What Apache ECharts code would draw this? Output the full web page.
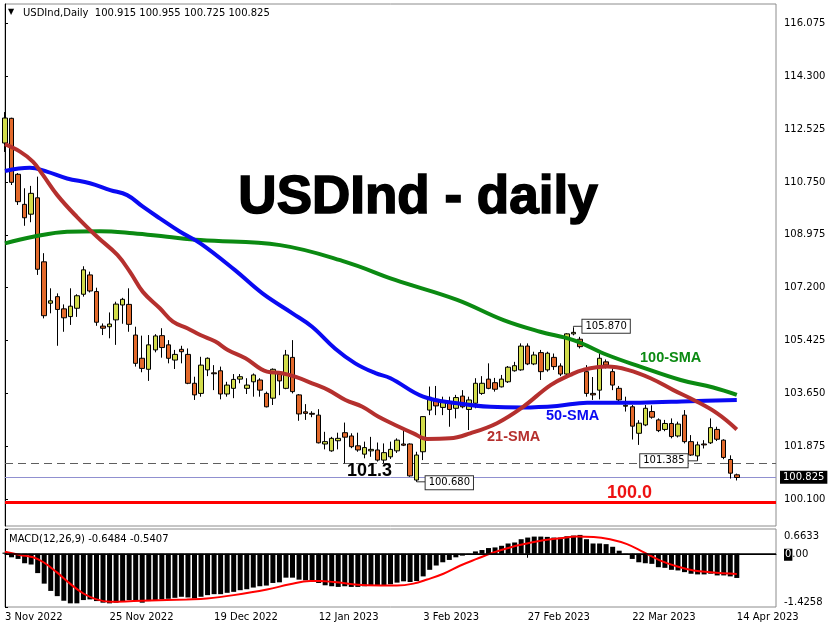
<!DOCTYPE html>
<html><head><meta charset="utf-8">
<script src="https://cdn.jsdelivr.net/npm/echarts@6/dist/echarts.min.js"></script>
<style>html,body{margin:0;padding:0;background:#fff}#c{width:837px;height:644px}</style>
</head><body><div id="c"></div><script>
// ---------- data ----------
const tickLabels = ['3 Nov 2022','25 Nov 2022','19 Dec 2022','12 Jan 2023','3 Feb 2023','27 Feb 2023','22 Mar 2023','14 Apr 2023'];
const priceTicks = [100.100,101.875,103.650,105.425,107.200,108.975,110.750,112.525,114.300,116.075];
const macdTicks = [-1.4258, 0, 0.6633];
const lastPrice = 100.825;
const supportLevel = 101.3;
const roundLevel = 100.0;

const open = [112.06,112.89,111.01,110.00,109.67,110.22,108.07,106.68,106.90,106.49,
106.23,106.51,106.98,107.63,107.07,105.91,105.89,106.12,106.62,106.64,
105.61,104.83,104.46,105.11,105.59,105.28,104.77,105.13,104.96,103.99,
103.65,104.44,104.34,104.41,103.63,103.82,104.13,103.82,104.04,104.10,
103.65,103.49,104.30,103.82,104.86,103.60,103.03,102.98,102.92,101.95,
101.72,102.06,102.33,102.22,101.89,101.61,101.72,101.75,101.41,101.52,
101.72,101.95,101.95,100.74,101.69,103.09,103.45,103.18,103.37,103.15,
103.56,103.11,103.32,103.65,104.13,104.01,103.87,104.04,104.41,104.44,
105.24,104.64,105.02,104.44,104.86,104.57,104.30,105.65,105.47,104.38,
103.65,103.76,104.71,104.38,103.82,103.22,103.20,102.31,102.59,103.04,
102.76,102.44,102.64,102.22,102.92,102.03,101.55,101.95,101.99,102.44,
102.08,101.43,100.915];
const high = [113.10,112.91,111.05,110.54,110.62,110.93,108.36,107.18,107.01,106.64,
107.18,106.98,107.92,107.74,107.20,106.00,106.37,106.73,106.86,107.18,
105.89,105.59,105.61,105.64,105.84,105.44,105.11,105.25,105.16,104.21,
104.88,104.86,104.60,104.55,104.04,104.30,104.30,104.16,104.32,104.16,
103.71,104.49,104.38,105.11,105.44,103.63,103.29,103.05,103.12,102.36,
102.19,102.33,102.67,102.31,102.33,102.03,102.19,102.00,101.97,102.03,
102.14,102.42,101.97,101.69,102.89,103.88,103.90,103.54,103.54,103.60,
103.76,103.54,104.16,104.23,104.66,104.17,104.27,104.57,104.71,105.33,
105.33,105.05,105.11,105.05,104.99,104.66,105.67,105.87,105.55,104.60,
104.20,104.99,104.79,104.49,103.90,103.54,103.26,102.75,103.26,103.25,
102.81,102.76,102.81,102.70,103.09,102.25,102.03,102.08,102.81,102.53,
102.11,101.57,100.955];
const low = [111.76,110.65,109.98,109.28,109.40,107.63,106.17,106.34,105.25,105.72,
105.95,106.22,106.90,107.04,105.92,105.61,105.50,105.28,105.99,105.72,
104.55,104.36,104.07,105.03,104.85,104.66,104.47,104.66,103.96,103.43,
103.54,104.23,103.76,103.45,103.54,103.49,103.99,103.63,103.54,103.54,
103.18,103.26,103.59,103.79,103.65,102.73,102.76,102.85,101.97,101.77,
101.69,101.77,101.30,101.81,101.69,101.47,101.52,101.36,101.30,101.45,
101.65,101.88,100.85,100.68,101.41,102.92,102.92,102.92,102.53,102.81,
103.15,102.42,103.15,103.60,103.79,103.71,103.85,104.00,104.38,104.41,
104.60,104.60,104.10,104.38,104.44,104.23,104.21,105.60,105.16,103.54,
103.43,103.45,104.49,103.76,103.37,103.04,102.10,101.92,102.55,102.80,
102.35,102.38,102.14,102.17,101.97,101.55,101.385,101.80,101.95,102.05,
101.44,100.79,100.725];
const close = [112.90,110.74,110.09,109.55,110.37,107.82,106.26,106.76,106.47,106.19,
106.58,106.93,107.80,107.09,106.04,105.84,105.98,106.65,106.81,105.97,
104.66,104.49,105.28,105.58,105.19,104.83,104.96,105.05,103.99,103.60,
104.60,104.83,104.31,103.63,103.93,104.12,104.21,103.93,104.27,103.76,
103.20,104.46,104.07,104.94,103.71,102.96,102.98,102.95,101.99,102.03,
102.14,102.14,102.18,101.86,101.75,101.83,101.77,101.41,101.66,101.77,
102.08,101.91,100.88,101.58,102.87,103.52,103.23,103.37,103.11,103.51,
103.20,103.43,103.99,103.99,103.82,103.79,104.13,104.53,104.58,105.24,
104.64,104.94,104.38,105.00,104.55,104.30,105.65,105.70,105.22,103.65,
103.60,104.83,104.60,103.93,103.43,103.25,102.55,102.65,103.15,102.85,
102.40,102.64,102.20,102.62,102.03,101.58,101.92,101.92,102.50,102.11,
101.50,100.97,100.825];

// moving averages: [bar position, value]
const sma21 = [[0,112.02],[2.3,111.77],[4.3,111.43],[5.8,110.99],[8,110.31],[11,109.58],[14.1,108.91],[17.2,108.30],[19.1,107.74],[21.1,107.06],[23.7,106.51],[25.7,106.06],[27.9,105.84],[29.9,105.61],[32.2,105.39],[34.1,105.11],[36.8,104.83],[40.1,104.38],[42.4,104.33],[44.4,104.21],[47,103.99],[49.5,103.76],[52.1,103.43],[54.7,103.20],[57.1,102.87],[59.7,102.59],[62.5,102.31],[64.6,102.12],[68.1,102.14],[71.2,102.31],[75.3,102.65],[79.3,103.20],[83.5,103.93],[86.5,104.27],[88.5,104.44],[92.2,104.55],[95.3,104.44],[98.8,104.16],[102.3,103.76],[105.4,103.43],[109,102.98],[112,102.44]];
const sma50 = [[0,111.12],[3.8,111.23],[6.4,111.10],[9.5,110.87],[13,110.71],[16.1,110.48],[18.7,110.31],[21.1,109.92],[23.7,109.53],[26.8,109.08],[29.9,108.69],[35.2,107.79],[39.4,107.01],[44,106.34],[47,105.89],[50.5,105.16],[53.6,104.66],[56.7,104.33],[59,104.16],[64,103.54],[69.2,103.32],[74.3,103.20],[79.3,103.18],[84.5,103.23],[89.1,103.34],[97.2,103.34],[104.9,103.39],[112,103.43]];
const sma100 = [[0,108.69],[4.3,108.91],[9.5,109.08],[14.5,109.10],[19.6,109.03],[24.8,108.91],[29.9,108.80],[42.1,108.63],[52.1,108.07],[59.7,107.46],[69.2,106.79],[76.3,106.11],[81.9,105.72],[87,105.44],[92.2,104.94],[97.2,104.55],[103.4,104.10],[108.4,103.85],[112,103.60]];

const macdHist = [0.03,-0.095,-0.138,-0.254,-0.288,-0.518,-0.80,-0.995,-1.135,-1.258,
-1.328,-1.328,-1.24,-1.222,-1.267,-1.31,-1.328,-1.31,-1.285,-1.24,
-1.258,-1.31,-1.267,-1.24,-1.222,-1.205,-1.18,-1.152,-1.17,-1.196,
-1.152,-1.108,-1.082,-1.082,-1.046,-1.02,-0.976,-0.95,-0.905,-0.87,
-0.852,-0.782,-0.765,-0.64,-0.64,-0.693,-0.711,-0.711,-0.782,-0.844,
-0.87,-0.888,-0.87,-0.888,-0.888,-0.87,-0.852,-0.844,-0.836,-0.817,
-0.773,-0.738,-0.756,-0.73,-0.606,-0.43,-0.315,-0.228,-0.165,-0.095,
-0.05,-0.02,0.063,0.10,0.153,0.17,0.214,0.275,0.302,0.39,
0.434,0.46,0.46,0.452,0.434,0.434,0.469,0.487,0.505,0.39,
0.275,0.275,0.258,0.187,0.082,-0.01,-0.138,-0.228,-0.254,-0.27,
-0.36,-0.377,-0.43,-0.447,-0.492,-0.535,-0.553,-0.553,-0.535,-0.58,
-0.58,-0.606,-0.648];
const macdSignal = [[0,0.055],[2.3,-0.032],[4.3,-0.095],[5.9,-0.228],[7.9,-0.492],[9.95,-0.80],[12,-1.064],[14,-1.222],[16.1,-1.285],[19.7,-1.267],[24.8,-1.24],[27.8,-1.222],[30.9,-1.196],[35,-1.108],[40.1,-0.958],[43.6,-0.817],[46.7,-0.73],[48.2,-0.73],[50.3,-0.756],[55.4,-0.844],[60,-0.85],[62.5,-0.80],[64.6,-0.69],[67.1,-0.535],[69.7,-0.315],[72.2,-0.138],[74.8,0.037],[77.3,0.17],[79.9,0.275],[82.4,0.364],[85,0.417],[87.5,0.46],[90.1,0.452],[92.6,0.39],[95.2,0.258],[97.8,0.037],[100.3,-0.183],[102.9,-0.341],[105.4,-0.447],[108,-0.492],[112,-0.541]];

// ---------- chart ----------
const nSlots = 119;
const cats = Array.from({length: nSlots}, (_, i) => String(i));
const candles = open.map((o, i) => [o, close[i], low[i], high[i]]);
const FONT = 'DejaVu Sans';

const chart = echarts.init(document.getElementById('c'));
const option = {
  animation: false,
  backgroundColor: '#fff',
  grid: [
    {left: 5, top: 4, width: 771, height: 522, show: true, borderColor: '#8c8c8c', borderWidth: 1, backgroundColor: '#fff'},
    {left: 5, top: 529, width: 771, height: 78, show: true, borderColor: '#8c8c8c', borderWidth: 1, backgroundColor: '#fff'}
  ],
  xAxis: [
    {type: 'category', gridIndex: 0, data: cats, boundaryGap: false, axisLine: {show: false}, axisTick: {show: false}, axisLabel: {show: false}, splitLine: {show: false}},
    {type: 'category', gridIndex: 1, data: cats, boundaryGap: false,
      axisLine: {show: true, lineStyle: {color: '#000', width: 1}},
      axisTick: {show: true, length: 4, interval: (i) => i % 16 === 0, lineStyle: {color: '#000'}},
      axisLabel: {show: true, interval: 0, align: 'left', margin: 5, fontSize: 10, fontFamily: FONT, color: '#000',
        formatter: (v, i) => (i % 16 === 0 && tickLabels[i / 16]) ? tickLabels[i / 16] : ''},
      splitLine: {show: false}},
    {type: 'value', gridIndex: 0, min: 0, max: nSlots - 1, show: false},
    {type: 'value', gridIndex: 1, min: 0, max: nSlots - 1, show: false}
  ],
  yAxis: [
    {type: 'value', gridIndex: 0, position: 'right', min: 99.196, max: 116.730, scale: true,
      axisLine: {show: true, lineStyle: {color: '#000', width: 1}},
      axisTick: {show: true, length: 3, customValues: priceTicks, lineStyle: {color: '#000'}},
      axisLabel: {show: true, customValues: priceTicks, margin: 8, fontSize: 10, fontFamily: FONT, color: '#000',
        formatter: (v) => v.toFixed(3)},
      splitLine: {show: false}},
    {type: 'value', gridIndex: 1, position: 'right', min: -1.4258, max: 0.6633,
      axisLine: {show: true, lineStyle: {color: '#000', width: 1}},
      axisTick: {show: true, length: 3, customValues: macdTicks, lineStyle: {color: '#000'}},
      axisLabel: {show: true, customValues: macdTicks, margin: 8, fontSize: 10, fontFamily: FONT, color: '#000',
        verticalAlignMinLabel: 'bottom', verticalAlignMaxLabel: 'top', padding: [2, 0, 0, 0],
        formatter: (v) => v === 0 ? '{z|0}.00' : v.toFixed(4),
        rich: {z: {backgroundColor: '#000', color: '#fff', fontSize: 10, fontFamily: FONT, padding: [1, 1, 1, 1]}}},
      splitLine: {show: false}}
  ],
  series: [
    {type: 'candlestick', name: 'USDInd', xAxisIndex: 0, yAxisIndex: 0, data: candles, barWidth: 5, z: 2,
      itemStyle: {color: '#d2dc4a', color0: '#e2692b', borderColor: '#000', borderColor0: '#000', borderWidth: 1},
      markLine: {silent: true, symbol: ['none', 'none'], animation: false, z: 1,
        data: [
          {yAxis: supportLevel, lineStyle: {color: '#5e5e5e', width: 1, type: [8, 5]}, label: {show: false}},
          {yAxis: roundLevel, lineStyle: {color: '#ff0000', width: 3, type: 'solid'}, label: {show: false}},
          {yAxis: lastPrice, lineStyle: {color: '#9090d0', width: 1, type: 'solid'},
            label: {show: true, position: 'end', distance: 4, formatter: lastPrice.toFixed(3), color: '#fff', backgroundColor: '#000',
              padding: [2, 3, 1, 3], fontSize: 10, fontFamily: FONT}}
        ]}},
    {type: 'line', name: '100-SMA', xAxisIndex: 2, yAxisIndex: 0, data: sma100, smooth: 0.4, showSymbol: false, z: 3,
      lineStyle: {color: '#0b8a12', width: 4}},
    {type: 'line', name: '50-SMA', xAxisIndex: 2, yAxisIndex: 0, data: sma50, smooth: 0.4, showSymbol: false, z: 3,
      lineStyle: {color: '#0a0af2', width: 4}},
    {type: 'line', name: '21-SMA', xAxisIndex: 2, yAxisIndex: 0, data: sma21, smooth: 0.4, showSymbol: false, z: 3,
      lineStyle: {color: '#b5302e', width: 4}},
    {type: 'bar', name: 'MACD', xAxisIndex: 1, yAxisIndex: 1, data: macdHist, barWidth: 5, itemStyle: {color: '#000'},
      markLine: {silent: true, symbol: ['none', 'none'], animation: false,
        data: [{yAxis: 0, lineStyle: {color: '#000', width: 1.5, type: 'solid'}, label: {show: false}}]}},
    {type: 'line', name: 'Signal', xAxisIndex: 3, yAxisIndex: 1, data: macdSignal, smooth: 0.4, showSymbol: false, z: 4,
      lineStyle: {color: '#ff0000', width: 2}}
  ]
};
chart.setOption(option);

// annotation elements
function px(idx, val) { return chart.convertToPixel({xAxisIndex: 0, yAxisIndex: 0}, [idx, val]); }
const boxStyle = {fill: '#000', font: '10px "DejaVu Sans"', backgroundColor: '#fff', borderColor: '#333', borderWidth: 1, padding: [2, 3, 1, 3], textVerticalAlign: 'middle'};
const hiPt = px(87, high[87]);
const loPt = px(63, low[63]);
const lo2Pt = px(106, low[106]);
const graphics = [
  {type: 'text', left: 8, top: 8, style: {text: '\u25BC', fill: '#000', font: '8px "DejaVu Sans"'}},
  {type: 'text', x: 23, y: 13, style: {text: 'USDInd,Daily  100.915 100.955 100.725 100.825', fill: '#000', font: '10px "DejaVu Sans"', textVerticalAlign: 'middle'}},
  {type: 'text', x: 9, y: 539, style: {text: 'MACD(12,26,9) -0.6484 -0.5407', fill: '#000', font: '10px "DejaVu Sans"', textVerticalAlign: 'middle'}},
  {type: 'text', x: 418, y: 198, style: {text: 'USDInd - daily', fill: '#000', stroke: '#000', lineWidth: 1.6, font: 'bold 53px "Liberation Sans", Arial, sans-serif', textAlign: 'center', textVerticalAlign: 'middle'}},
  {type: 'text', x: 487, y: 437, z: 10, style: {text: '21-SMA', fill: '#b5302e', font: 'bold 14.5px "Liberation Sans", Arial, sans-serif', textVerticalAlign: 'middle'}},
  {type: 'text', x: 546, y: 416, z: 10, style: {text: '50-SMA', fill: '#0a0af2', font: 'bold 14.5px "Liberation Sans", Arial, sans-serif', textVerticalAlign: 'middle'}},
  {type: 'text', x: 640, y: 358, z: 10, style: {text: '100-SMA', fill: '#0b8a12', font: 'bold 14.5px "Liberation Sans", Arial, sans-serif', textVerticalAlign: 'middle'}},
  {type: 'text', x: 347, y: 471, z: 10, style: {text: '101.3', fill: '#000', font: 'bold 18px "Liberation Sans", Arial, sans-serif', textVerticalAlign: 'middle'}},
  {type: 'text', x: 607, y: 493, z: 10, style: {text: '100.0', fill: '#ee1111', font: 'bold 18px "Liberation Sans", Arial, sans-serif', textVerticalAlign: 'middle'}},
  // high label
  {type: 'polyline', z: 10, shape: {points: [[hiPt[0], hiPt[1]], [hiPt[0], hiPt[1] - 1], [hiPt[0] + 9, hiPt[1] - 1]]}, style: {stroke: '#333', lineWidth: 1, fill: null}},
  {type: 'text', z: 10, x: hiPt[0] + 9, y: hiPt[1] - 1, style: Object.assign({}, boxStyle, {text: high[87].toFixed(3)})},
  // low label
  {type: 'line', z: 10, shape: {x1: loPt[0], y1: loPt[1], x2: loPt[0] + 9, y2: loPt[1]}, style: {stroke: '#333', lineWidth: 1}},
  {type: 'text', z: 10, x: loPt[0] + 9, y: loPt[1] + 1, style: Object.assign({}, boxStyle, {text: low[63].toFixed(3)})},
  // second low label (box on the left)
  {type: 'line', z: 10, shape: {x1: lo2Pt[0] - 10, y1: lo2Pt[1], x2: lo2Pt[0], y2: lo2Pt[1]}, style: {stroke: '#333', lineWidth: 1}},
  {type: 'text', z: 10, x: lo2Pt[0] - 10, y: lo2Pt[1], style: Object.assign({}, boxStyle, {text: low[106].toFixed(3), textAlign: 'right'})}
];
chart.setOption({graphic: graphics});
</script></body></html>
